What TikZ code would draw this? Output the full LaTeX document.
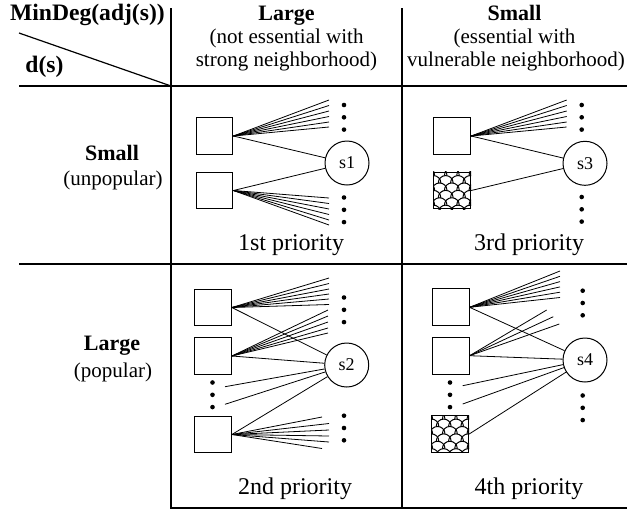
\documentclass[tikz,border=0pt]{standalone}
\usepackage{fontspec}
\setmainfont{Liberation Serif}
\usetikzlibrary{calc}
\newcommand{\sizebox}{18.4pt}
\newcommand{\sizesrv}{22pt}
\newcommand{\gapdot}{12.3}
\tikzset{
    common/.style={draw, line width=0.5pt},
    box/.style={common, rectangle, inner sep=0pt, minimum width=\sizebox, minimum height=\sizebox},
    srv/.style={common, circle, inner sep=0pt, minimum size=\sizesrv, font=\fontsize{9}{10}\selectfont},
    spot/.style={circle, fill, inner sep=0pt, minimum size=2.3pt},
    axis/.style={anchor=base, font=\fontsize{11.8}{13}\selectfont\bfseries},
    head/.style={anchor=base, font=\fontsize{11}{12}\selectfont\bfseries},
    note/.style={anchor=base, font=\fontsize{10.5}{11.5}\selectfont},
    prio/.style={anchor=base, font=\fontsize{12}{13}\selectfont},
    grid/.style={line width=0.6pt},
    fan/.style={line width=0.4pt}
}
% three dots standing one below the other
\newcommand{\spots}[3]{\foreach \k in {0,1,2} \node[spot] (#1\k) at (#2,#3+\k*\gapdot) {};}
% fish scales inside a box
\newcommand{\scales}[1]{%
    \begin{scope}
        \clip (#1.north west) rectangle (#1.south east);
        \foreach \rw in {0,...,6}
            \foreach \cl in {-1,...,3}
                \draw[line width=0.5pt] ($(#1.north west)+({\cl*12.3+mod(\rw,2)*6.15-1.3},{\rw*7.4+4})$)
                    arc[start angle=180, end angle=360, radius=7.45];
    \end{scope}}

\begin{document}
\begin{tikzpicture}[x=0.5pt, y=-0.5pt]
    \useasboundingbox (0,0) rectangle (627,510);

    % table
    \draw[grid] (171,8) -- (171,508) -- (627,508);
    \draw[grid] (402,8) -- (402,508);
    \draw[grid] (19,86) -- (627,86);
    \draw[grid] (19,264) -- (627,264);
    \draw[grid] (19,33) -- (171,86);

    \node[axis, anchor=base west] (MD) at (3,20.7) {MinDeg(adj(s))};
    \node[axis] (DS) at (44.5,72.7) {d(s)};
    \node[head] (CL) at (286.5,20) {Large};
    \node[note] (CLa) at (286.5,43) {(not essential with};
    \node[note] (CLb) at (286.5,66) {strong neighborhood)};
    \node[head] (CS) at (514.5,20) {Small};
    \node[note] (CSa) at (514.5,43) {(essential with};
    \node[note] (CSb) at (516,66) {vulnerable neighborhood)};
    \node[head] (RS) at (112,160) {Small};
    \node[note] (RSa) at (113,185) {(unpopular)};
    \node[head] (RL) at (112,350) {Large};
    \node[note] (RLa) at (113,377) {(popular)};

    % 1st priority
    \node[box] (A1) at (214.5,136) {};
    \node[box] (A2) at (214.5,190.5) {};
    \node[srv] (S1) at (347,163) {s1};
    \foreach \y [count=\i] in {100,105.5,111,116.5,122,127} {
        \coordinate (A1f\i) at (329,\y);
        \draw[fan] (A1.east) -- (A1f\i);
    }
    \foreach \y [count=\i] in {198,203.5,209,214.5,220,225} {
        \coordinate (A2f\i) at (329,\y);
        \draw[fan] (A2.east) -- (A2f\i);
    }
    \draw (A1.east) -- (S1);
    \draw (A2.east) -- (S1);
    \spots{A1d}{344}{105}
    \spots{A2d}{344}{197.5}
    \node[prio] (P1) at (291,250) {1st priority};

    % 3rd priority
    \node[box] (B1) at (452.3,136) {};
    \node[box] (B2) at (452.3,190.5) {};
    \scales{B2}
    \node[srv] (S3) at (585,163.3) {s3};
    \foreach \y [count=\i] in {100,105.5,111,116.5,122,127} {
        \coordinate (B1f\i) at (566.7,\y);
        \draw[fan] (B1.east) -- (B1f\i);
    }
    \draw (B1.east) -- (S3);
    \draw (B2.east) -- (S3);
    \spots{B1d}{581.7}{105}
    \spots{B2d}{581.7}{197}
    \node[prio] (P3) at (529,250) {3rd priority};

    % 2nd priority
    \node[box] (C1) at (213,307.5) {};
    \node[box] (C2) at (213,356) {};
    \node[box] (C3) at (213,434.5) {};
    \node[srv] (S2) at (346.7,365) {s2};
    \foreach \y [count=\i] in {278,283.5,289,294,299,304.5} {
        \coordinate (C1f\i) at (329,\y);
        \draw[fan] (C1.east) -- (C1f\i);
    }
    \foreach \y [count=\i] in {310,316,322,328,333} {
        \coordinate (C2f\i) at (328,\y);
        \draw[fan] (C2.east) -- (C2f\i);
    }
    \foreach \x/\y [count=\i] in {322/417,329/423.5,329/430,329/436,329/442,322/448.5} {
        \coordinate (C3f\i) at (\x,\y);
        \draw[fan] (C3.east) -- (C3f\i);
    }
    \coordinate (C2t1) at (225,386.7);
    \coordinate (C2t2) at (225,404.3);
    \draw (C1.east) -- (S2);
    \draw (C2.east) -- (S2);
    \draw (C3.east) -- (S2);
    \draw (C2t1) -- (S2);
    \draw (C2t2) -- (S2);
    \spots{C2d}{212.5}{382.5}
    \spots{C1d}{344}{297.5}
    \spots{C3d}{344}{415.7}
    \node[prio] (P2) at (295,494) {2nd priority};

    % 4th priority
    \node[box] (D1) at (450.7,307.3) {};
    \node[box] (D2) at (450.7,355.7) {};
    \node[box] (D3) at (450.3,434) {};
    \scales{D3}
    \node[srv] (S4) at (585,360) {s4};
    \foreach \y [count=\i] in {271,276.3,281.6,286.9,292.2,297.5} {
        \coordinate (D1f\i) at (560,\y);
        \draw[fan] (D1.east) -- (D1f\i);
    }
    \foreach \x/\y [count=\i] in {546.7/310,553.3/316.7,559.3/324} {
        \coordinate (D2f\i) at (\x,\y);
        \draw[fan] (D2.east) -- (D2f\i);
    }
    \coordinate (D2t1) at (462.7,385.7);
    \coordinate (D2t2) at (462.7,404);
    \draw (D1.east) -- (S4);
    \draw (D2.east) -- (S4);
    \draw (D3.east) -- (S4);
    \draw (D2t1) -- (S4);
    \draw (D2t2) -- (S4);
    \spots{D2d}{450}{382.5}
    \spots{D1d}{582.7}{290.7}
    \spots{D3d}{582.7}{395.5}
    \node[prio] (P4) at (529,494) {4th priority};
\end{tikzpicture}
\end{document}
